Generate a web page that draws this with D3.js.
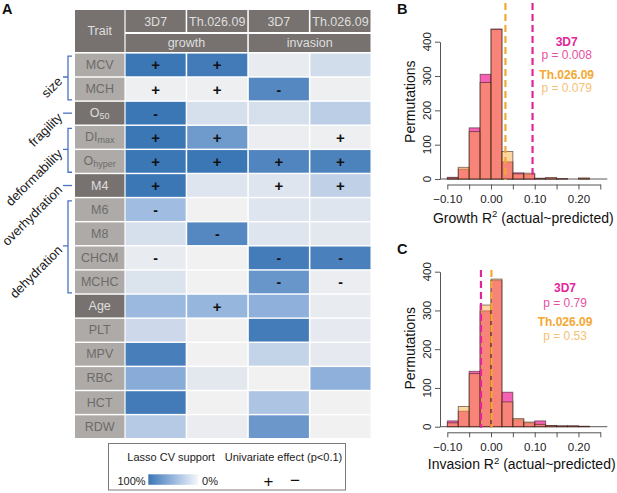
<!DOCTYPE html>
<html><head><meta charset="utf-8">
<script src="https://cdn.jsdelivr.net/npm/d3@7"></script>
<style>
body{margin:0;background:#fff;}
svg{display:block;font-family:"Liberation Sans",Arial,Helvetica,sans-serif;}
</style>
</head><body>
<svg id="chart" width="617" height="493"></svg>
<script>
// ---------- DATA: panel A ----------
const traits = ["MCV","MCH","O50","DImax","Ohyper","M4","M6","M8","CHCM","MCHC","Age","PLT","MPV","RBC","HCT","RDW"];
const traitBase = ["MCV","MCH","O","DI","O","M4","M6","M8","CHCM","MCHC","Age","PLT","MPV","RBC","HCT","RDW"];
const traitSub  = ["","","50","max","hyper","","","","","","","","","","",""];
const darkTraits = ["O50","M4","Age"];
const columns = ["3D7-growth","Th-growth","3D7-invasion","Th-invasion"];
const strainLabels = ["3D7","Th.026.09","3D7","Th.026.09"];
const phenotypes = ["growth","invasion"];
// Lasso CV support (0..1), per column, row order = traits
const support3D7Growth   = [1.00,0.02,1.00,1.00,1.00,1.00,0.45,0.15,0.05,0.12,0.48,0.20,0.93,0.58,0.96,0.33];
const supportThGrowth    = [0.96,0.02,0.15,0.72,1.00,0.10,0.00,0.86,0.00,0.00,0.50,0.00,0.00,0.08,0.00,0.04];
const support3D7Invasion = [0.05,0.86,0.15,0.03,0.88,0.10,0.10,0.10,0.95,0.75,0.55,0.95,0.25,0.00,0.38,0.74];
const supportThInvasion  = [0.17,0.02,0.30,0.02,0.90,0.28,0.10,0.08,0.92,0.03,0.05,0.06,0.06,0.55,0.00,0.00];
// univariate effect signs
const sign3D7Growth   = ["+","+","-","+","+","+","-","","-","","","","","","",""];
const signThGrowth    = ["+","+","","+","+","","","-","","","+","","","","",""];
const sign3D7Invasion = ["","-","","","+","+","","","-","-","","","","","",""];
const signThInvasion  = ["","","","+","+","+","","","-","-","","","","","",""];
// trait groups (brackets)
const groupNames = ["size","fragility","deformability","overhydration","dehydration"];
const groupStart = ["MCV","O50","DImax","M4","M6"];
const groupEnd   = ["MCH","O50","Ohyper","M4","MCHC"];

// ---------- DATA: panels B, C ----------
const binEdges = [-0.1,-0.075,-0.05,-0.025,0,0.025,0.05,0.075,0.1,0.125,0.15,0.175,0.2,0.225];
const growth3D7 = [5,29,149,305,437,50,18,14,2,3,1,0,2];
const growthTh  = [3,34,138,281,436,80,15,17,2,4,1,0,3];
const invasion3D7 = [15,40,143,299,378,89,18,10,15,3,2,2,1];
const invasionTh  = [10,52,137,314,381,64,21,12,6,3,2,2,1];
const obsGrowth3D7 = 0.095, obsGrowthTh = 0.033;
const obsInvasion3D7 = -0.023, obsInvasionTh = 0.001;
const pGrowth = ["p = 0.008","p = 0.079"];
const pInvasion = ["p = 0.79","p = 0.53"];
const xTicks = [-0.1,-0.05,0,0.05,0.1,0.15,0.2,0.25];
const xTickLabels = [-0.1,0,0.1,0.2];
const yTicks = [0,100,200,300,400];

// ---------- styles ----------
const headerFill = "#77726f", lightTrait = "#adaaa8", traitText = "#6e6a68", lightText = "#dedede";
const bracketColor = "#4a72c4";
const pinkFill = "rgba(240,30,150,0.70)", orangeFill = "rgba(252,170,55,0.48)";
const magenta = "#e2269a", orange = "#f3a832";

const svg = d3.select("#chart");

// ---------- Panel A ----------
const colX = d3.scaleBand().domain(columns).range([125.6,370.5]).paddingInner(0.025);
const rowY = d3.scaleBand().domain(traits).range([53.6,438]).paddingInner(0.06);
const supportColor = d3.scaleLinear().domain([0,0.5,1]).range(["#f1f1f2","#97b6de","#3b76b5"]);
const bw = colX.bandwidth(), rh = rowY.bandwidth();
const tx0 = 75, tx1 = 124.4;

const gA = svg.append("g");
// header
gA.append("rect").attr("x",tx0).attr("y",10).attr("width",tx1-tx0).attr("height",42).attr("fill",headerFill);
gA.append("text").attr("x",(tx0+tx1)/2).attr("y",31).attr("text-anchor","middle").attr("dominant-baseline","central")
  .attr("font-size",12.5).attr("fill",lightText).text("Trait");
columns.forEach((c,i)=>{
  gA.append("rect").attr("x",colX(c)).attr("y",10).attr("width",bw).attr("height",22).attr("fill",headerFill);
  gA.append("text").attr("x",colX(c)+bw/2).attr("y",21.5).attr("text-anchor","middle").attr("dominant-baseline","central")
    .attr("font-size",12.5).attr("fill",lightText).text(strainLabels[i]);
});
phenotypes.forEach((p,i)=>{
  const a = colX(columns[2*i]), b = colX(columns[2*i+1])+bw;
  gA.append("rect").attr("x",a).attr("y",34).attr("width",b-a).attr("height",18).attr("fill",headerFill);
  gA.append("text").attr("x",(a+b)/2).attr("y",43).attr("text-anchor","middle").attr("dominant-baseline","central")
    .attr("font-size",12.5).attr("fill",lightText).text(p);
});
// trait cells
traits.forEach((t,i)=>{
  const dark = darkTraits.includes(t);
  gA.append("rect").attr("x",tx0).attr("y",rowY(t)).attr("width",tx1-tx0).attr("height",rh)
    .attr("fill",dark?headerFill:lightTrait);
  const txt = gA.append("text").attr("x",(tx0+tx1)/2).attr("y",rowY(t)+rh/2).attr("text-anchor","middle")
    .attr("dominant-baseline","central").attr("font-size",12.5).attr("fill",dark?lightText:traitText);
  txt.append("tspan").text(traitBase[i]);
  if(traitSub[i]) txt.append("tspan").attr("font-size",9).attr("dy",3).text(traitSub[i]);
});
// data cells
const supports = [support3D7Growth,supportThGrowth,support3D7Invasion,supportThInvasion];
const signs = [sign3D7Growth,signThGrowth,sign3D7Invasion,signThInvasion];
const cells = [];
columns.forEach((c,j)=>traits.forEach((t,i)=>cells.push({col:c,trait:t,v:supports[j][i],s:signs[j][i]})));
gA.selectAll("rect.cell").data(cells).join("rect").attr("class","cell")
  .attr("x",d=>colX(d.col)).attr("y",d=>rowY(d.trait)).attr("width",bw).attr("height",rh)
  .attr("fill",d=>supportColor(d.v));
gA.selectAll("text.sign").data(cells.filter(d=>d.s)).join("text").attr("class","sign")
  .attr("x",d=>colX(d.col)+bw/2).attr("y",d=>rowY(d.trait)+rh/2+ (d.s==="+"?0:0.5))
  .attr("text-anchor","middle").attr("dominant-baseline","central")
  .attr("font-size",d=>d.s==="+"?15:14).attr("font-weight","bold").attr("fill","#111").text(d=>d.s);
// brackets + group labels
groupNames.forEach((g,i)=>{
  const y0 = rowY(groupStart[i])+2.5, y1 = rowY(groupEnd[i])+rh-0.5, ym = (rowY(groupStart[i])+rowY(groupEnd[i])+rh)/2;
  if(groupStart[i]===groupEnd[i]){
    gA.append("path").attr("d",`M63,${ym}H72`).attr("stroke",bracketColor).attr("stroke-width",1.3).attr("fill","none");
  } else {
    gA.append("path").attr("d",`M72,${y0}H68V${y1}H72M68,${ym}H63`).attr("stroke",bracketColor).attr("stroke-width",1.3).attr("fill","none");
  }
  gA.append("text").attr("x",60).attr("y",ym+2).attr("text-anchor","end").attr("dominant-baseline","central")
    .attr("transform",`rotate(-45,60,${ym+2})`).attr("font-size",13).attr("fill","#1a1a1a").text(g);
});
// legend
const lg = svg.append("g");
lg.append("rect").attr("x",108.5).attr("y",443.5).attr("width",237).attr("height",46.5).attr("fill","#fff").attr("stroke","#7a7a7a").attr("stroke-width",1);
const defs = svg.append("defs");
const grad = defs.append("linearGradient").attr("id","lassoGrad");
grad.append("stop").attr("offset","0%").attr("stop-color",supportColor(1));
grad.append("stop").attr("offset","50%").attr("stop-color",supportColor(0.5));
grad.append("stop").attr("offset","100%").attr("stop-color","#f6f7fb");
lg.append("rect").attr("x",148.3).attr("y",474.3).attr("width",50).attr("height",10.5).attr("fill","url(#lassoGrad)");
lg.append("text").attr("x",171).attr("y",456.5).attr("text-anchor","middle").attr("dominant-baseline","central").attr("font-size",11).attr("fill","#222").text("Lasso CV support");
lg.append("text").attr("x",283.5).attr("y",456.5).attr("text-anchor","middle").attr("dominant-baseline","central").attr("font-size",11).attr("fill","#222").text("Univariate effect (p<0.1)");
lg.append("text").attr("x",131.5).attr("y",480.5).attr("text-anchor","middle").attr("dominant-baseline","central").attr("font-size",11).attr("fill","#222").text("100%");
lg.append("text").attr("x",210).attr("y",480.5).attr("text-anchor","middle").attr("dominant-baseline","central").attr("font-size",11).attr("fill","#222").text("0%");
lg.append("text").attr("x",268.5).attr("y",481).attr("text-anchor","middle").attr("dominant-baseline","central").attr("font-size",17).attr("fill","#111").text("+");
lg.append("text").attr("x",295).attr("y",480.5).attr("text-anchor","middle").attr("dominant-baseline","central").attr("font-size",17).attr("fill","#111").text("\u2212");

// ---------- Panels B, C ----------
function histPanel(opt){
  const g = svg.append("g");
  const x = d3.scaleLinear().domain([-0.1,0.25]).range([447.3,600.3]);
  const y = d3.scaleLinear().domain([0,400]).range([opt.y0, opt.y400]);
  // baseline
  g.append("line").attr("x1",x(-0.117)).attr("x2",x(0.266)).attr("y1",y(0)).attr("y2",y(0)).attr("stroke","rgba(40,30,30,0.75)").attr("stroke-width",1);
  const bars = (counts, fill) => g.append("g").selectAll("rect").data(counts).join("rect")
    .attr("x",(d,i)=>x(binEdges[i])).attr("width",(d,i)=>x(binEdges[i+1])-x(binEdges[i]))
    .attr("y",d=>y(d)).attr("height",d=>y(0)-y(d))
    .attr("fill",fill).attr("stroke","rgba(50,25,25,0.6)").attr("stroke-width",0.9);
  bars(opt.pink, pinkFill);
  bars(opt.orange, orangeFill);
  // observed lines
  [[opt.obsTh,orange],[opt.obs3D7,magenta]].forEach(([v,c])=>{
    g.append("line").attr("x1",x(v)).attr("x2",x(v)).attr("y1",opt.top).attr("y2",y(0)+1)
      .attr("stroke",c).attr("stroke-width",2.2).attr("stroke-dasharray","7,4");
  });
  // axes
  const ax = g.append("g").attr("transform",`translate(0,${opt.axisY})`)
    .call(d3.axisBottom(x).tickValues(xTicks).tickSize(5).tickSizeOuter(0).tickPadding(5.5)
      .tickFormat(d=>xTickLabels.some(v=>Math.abs(v-d)<1e-9)?d3.format(".2f")(d):""));
  const ay = g.append("g").attr("transform","translate(440,0)")
    .call(d3.axisLeft(y).tickValues(yTicks).tickSize(5).tickSizeOuter(0).tickFormat(""));
  [ax,ay].forEach(a=>{a.select(".domain").attr("stroke","#555");a.selectAll(".tick line").attr("stroke","#555");
    a.selectAll("text").attr("font-size",11.5).attr("fill","#222").attr("font-family",null);});
  g.selectAll("text.ylab").data(yTicks).join("text").attr("class","ylab")
    .attr("x",427).attr("y",d=>y(d)).attr("text-anchor","middle").attr("dominant-baseline","central")
    .attr("transform",d=>`rotate(-90,427,${y(d)})`).attr("font-size",11.5).attr("fill","#222").text(d=>d);
  // titles
  g.append("text").attr("x",410).attr("y",opt.permY).attr("text-anchor","middle").attr("dominant-baseline","central")
    .attr("transform",`rotate(-90,410,${opt.permY})`).attr("font-size",14).attr("fill","#111").text("Permutations");
  const xt = g.append("text").attr("x",opt.titleX).attr("y",opt.titleY).attr("text-anchor","middle").attr("dominant-baseline","central")
    .attr("font-size",14).attr("fill","#111");
  xt.append("tspan").text(opt.title+" R");
  xt.append("tspan").attr("font-size",9.5).attr("dy",-4.5).text("2");
  xt.append("tspan").attr("dy",4.5).text(" (actual~predicted)");
  // stats
  const sx = opt.statX;
  g.append("text").attr("x",sx).attr("y",opt.statY[0]).attr("text-anchor","middle").attr("dominant-baseline","central").attr("font-size",12).attr("font-weight","bold").attr("fill",magenta).text("3D7");
  g.append("text").attr("x",sx).attr("y",opt.statY[1]).attr("text-anchor","middle").attr("dominant-baseline","central").attr("font-size",12).attr("fill","#e8509f").text(opt.p[0]);
  g.append("text").attr("x",sx).attr("y",opt.statY[2]).attr("text-anchor","middle").attr("dominant-baseline","central").attr("font-size",12).attr("font-weight","bold").attr("fill",orange).text("Th.026.09");
  g.append("text").attr("x",sx).attr("y",opt.statY[3]).attr("text-anchor","middle").attr("dominant-baseline","central").attr("font-size",12).attr("fill","#f7bf72").text(opt.p[1]);
  // panel letter
  g.append("text").attr("x",397).attr("y",opt.letterY).attr("font-size",14.5).attr("font-weight","bold").attr("fill","#111").text(opt.letter);
}
histPanel({pink:growth3D7, orange:growthTh, obs3D7:obsGrowth3D7, obsTh:obsGrowthTh, y0:179, y400:41.7, top:3,
  axisY:184.5, permY:101.7, title:"Growth", titleX:523.3, titleY:217.5, statX:566.7, statY:[41.7,55,75,88.3], p:pGrowth, letter:"B", letterY:13.5});
histPanel({pink:invasion3D7, orange:invasionTh, obs3D7:obsInvasion3D7, obsTh:obsInvasionTh, y0:426.7, y400:271.7, top:270,
  axisY:432.3, permY:348.3, title:"Invasion", titleX:521.7, titleY:464.3, statX:565, statY:[288.3,303.3,322.3,335.7], p:pInvasion, letter:"C", letterY:254});
svg.append("text").attr("x",2).attr("y",13.5).attr("font-size",14.5).attr("font-weight","bold").attr("fill","#111").text("A");
</script>
</body></html>
